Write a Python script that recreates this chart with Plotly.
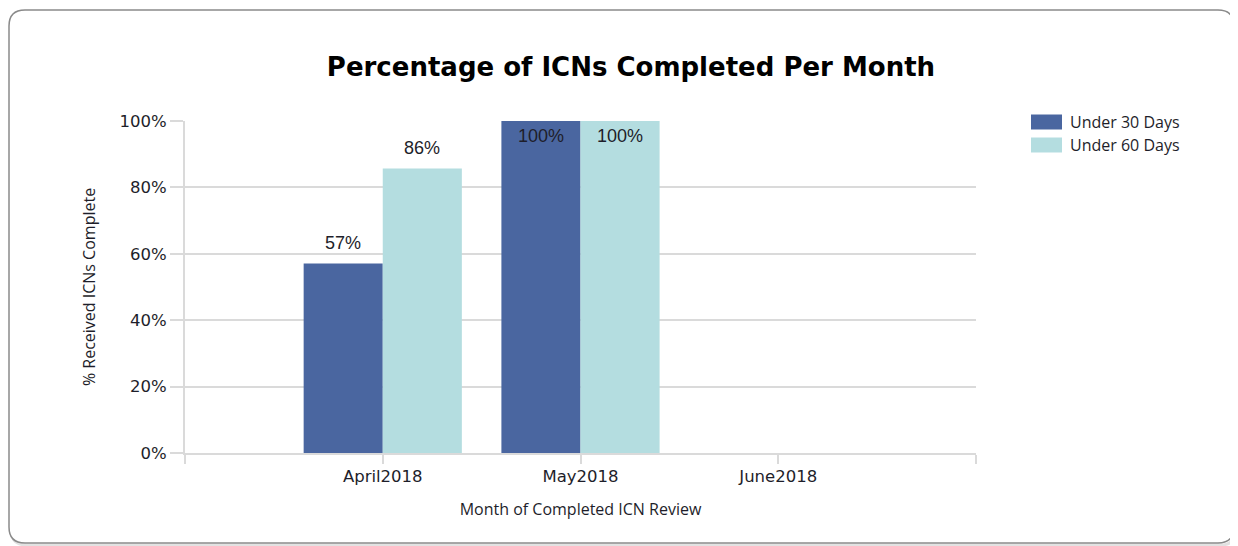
import plotly.graph_objects as go

# ---- data ----
months = ["April2018", "May2018", "June2018"]
series_names = ["Under 30 Days", "Under 60 Days"]
under_30 = [57.1, 100, None]
under_60 = [85.7, 100, None]
labels_30 = ["57%", "100%", ""]
labels_60 = ["86%", "100%", ""]
y_ticks = [0, 20, 40, 60, 80, 100]
y_tick_text = ["0%", "20%", "40%", "60%", "80%", "100%"]
colors = ["#4A66A0", "#B4DDE0"]

# ---- layout constants (page body has an 8px margin) ----
OFF = 8
W, H = 1238 - OFF, 546 - OFF
ML, MR, MT, MB = 185 - OFF, 262, 121 - OFF, 93
PW, PH = W - ML - MR, H - MT - MB
BARGAP = 0.2
TICK_FONT = "DejaVu Sans"
LABEL_FONT = "Open Sans"
TEXT_COL = "#1e1e2a"
GRID_COL = "#dadada"

x_pos = list(range(len(months)))

fig = go.Figure()
series = [under_30, under_60]
labels = [labels_30, labels_60]
for name, vals, col in zip(series_names, series, colors):
    fig.add_trace(go.Bar(
        x=x_pos, y=vals, name=name,
        marker=dict(color=col, line=dict(width=0)),
        hoverinfo="skip", showlegend=False,
    ))


# pixel (reference screen coords) -> paper conversion
def px2x(px):
    return (px - OFF - ML) / PW


def py2y(py):
    return (H - MB - (py - OFF)) / PH


# value labels, placed relative to each bar via data coords
n = len(series)
bw = (1 - BARGAP) / n
annotations = []
for k, (vals, labs) in enumerate(zip(series, labels)):
    off = (k - (n - 1) / 2) * bw
    for xi, v, lab in zip(x_pos, vals, labs):
        if v is None or not lab:
            continue
        inside = v >= 100
        annotations.append(dict(
            x=xi + off, y=v, xref="x", yref="y", text=lab, showarrow=False,
            yanchor="middle", yshift=-15 if inside else 20,
            font=dict(family="Liberation Sans", size=18, color=TEXT_COL),
        ))

# legend (swatch rectangles + names)
shapes = []
LEG_X, LEG_Y0, LEG_DY = 1031, 122, 23
for i, (name, col) in enumerate(zip(series_names, colors)):
    cy = LEG_Y0 + i * LEG_DY
    shapes.append(dict(type="rect", xref="paper", yref="paper",
                       x0=px2x(LEG_X), x1=px2x(LEG_X + 31),
                       y0=py2y(cy - 7.5), y1=py2y(cy + 7.5),
                       fillcolor=col, line=dict(width=0)))
    annotations.append(dict(x=px2x(LEG_X + 37), y=py2y(cy), xref="paper", yref="paper",
                            xanchor="left", yanchor="middle", showarrow=False, text=name,
                            font=dict(family=LABEL_FONT, size=16, color=TEXT_COL)))


def rounded(l, t, r, b, rad):
    pts = [
        ("M", [(l + rad, t)]), ("L", [(r - rad, t)]), ("Q", [(r, t), (r, t + rad)]),
        ("L", [(r, b - rad)]), ("Q", [(r, b), (r - rad, b)]), ("L", [(l + rad, b)]),
        ("Q", [(l, b), (l, b - rad)]), ("L", [(l, t + rad)]), ("Q", [(l, t), (l + rad, t)]),
    ]
    s = ""
    for cmd, cs in pts:
        s += cmd + " ".join(f"{px2x(a):.5f},{py2y(c):.5f}" for a, c in cs) + " "
    return s + "Z"


shapes = [
    dict(type="path", xref="paper", yref="paper", path=rounded(11, 13, 1236, 545, 16),
         line=dict(color="#e2e2e2", width=3), layer="below"),
    dict(type="path", xref="paper", yref="paper", path=rounded(9, 10, 1234, 543, 16),
         line=dict(color="#8a8a8a", width=1.5), fillcolor="white", layer="below"),
] + shapes

fig.update_layout(
    width=W, height=H,
    margin=dict(l=ML, r=MR, t=MT, b=MB, autoexpand=False),
    paper_bgcolor="white", plot_bgcolor="rgba(0,0,0,0)",
    barmode="group", bargap=BARGAP, bargroupgap=0,
    title=dict(text="<b>Percentage of ICNs Completed Per Month</b>",
               x=(631 - OFF) / W, xref="container", xanchor="center",
               y=1 - (67 - OFF) / H, yref="container", yanchor="middle",
               font=dict(family="DejaVu Sans", size=26, color="#000000")),
    xaxis=dict(
        range=[-1, len(months)], tickvals=[-1] + x_pos + [len(months)],
        ticktext=[""] + months + [""],
        showgrid=False, zeroline=False,
        showline=True, linecolor=GRID_COL, linewidth=2,
        ticks="outside", ticklen=9, tickcolor=GRID_COL, tickwidth=2,
        ticklabelstandoff=-2,
        tickfont=dict(family=TICK_FONT, size=16.5, color=TEXT_COL),
        title=dict(text="Month of Completed ICN Review", standoff=19,
                   font=dict(family=LABEL_FONT, size=16, color=TEXT_COL)),
        fixedrange=True,
    ),
    yaxis=dict(
        range=[0, 100], tickvals=y_ticks, ticktext=y_tick_text,
        showgrid=True, gridcolor=GRID_COL, gridwidth=2, zeroline=False,
        showline=True, linecolor=GRID_COL, linewidth=2,
        ticks="outside", ticklen=13, tickcolor=GRID_COL, tickwidth=2,
        tickfont=dict(family=TICK_FONT, size=16.5, color=TEXT_COL),
        title=dict(text="% Received ICNs Complete", standoff=20,
                   font=dict(family=LABEL_FONT, size=16, color=TEXT_COL)),
        fixedrange=True,
    ),
    showlegend=False,
    annotations=annotations,
    shapes=shapes,
)

fig.write_html("out.html", config={"displayModeBar": False})
